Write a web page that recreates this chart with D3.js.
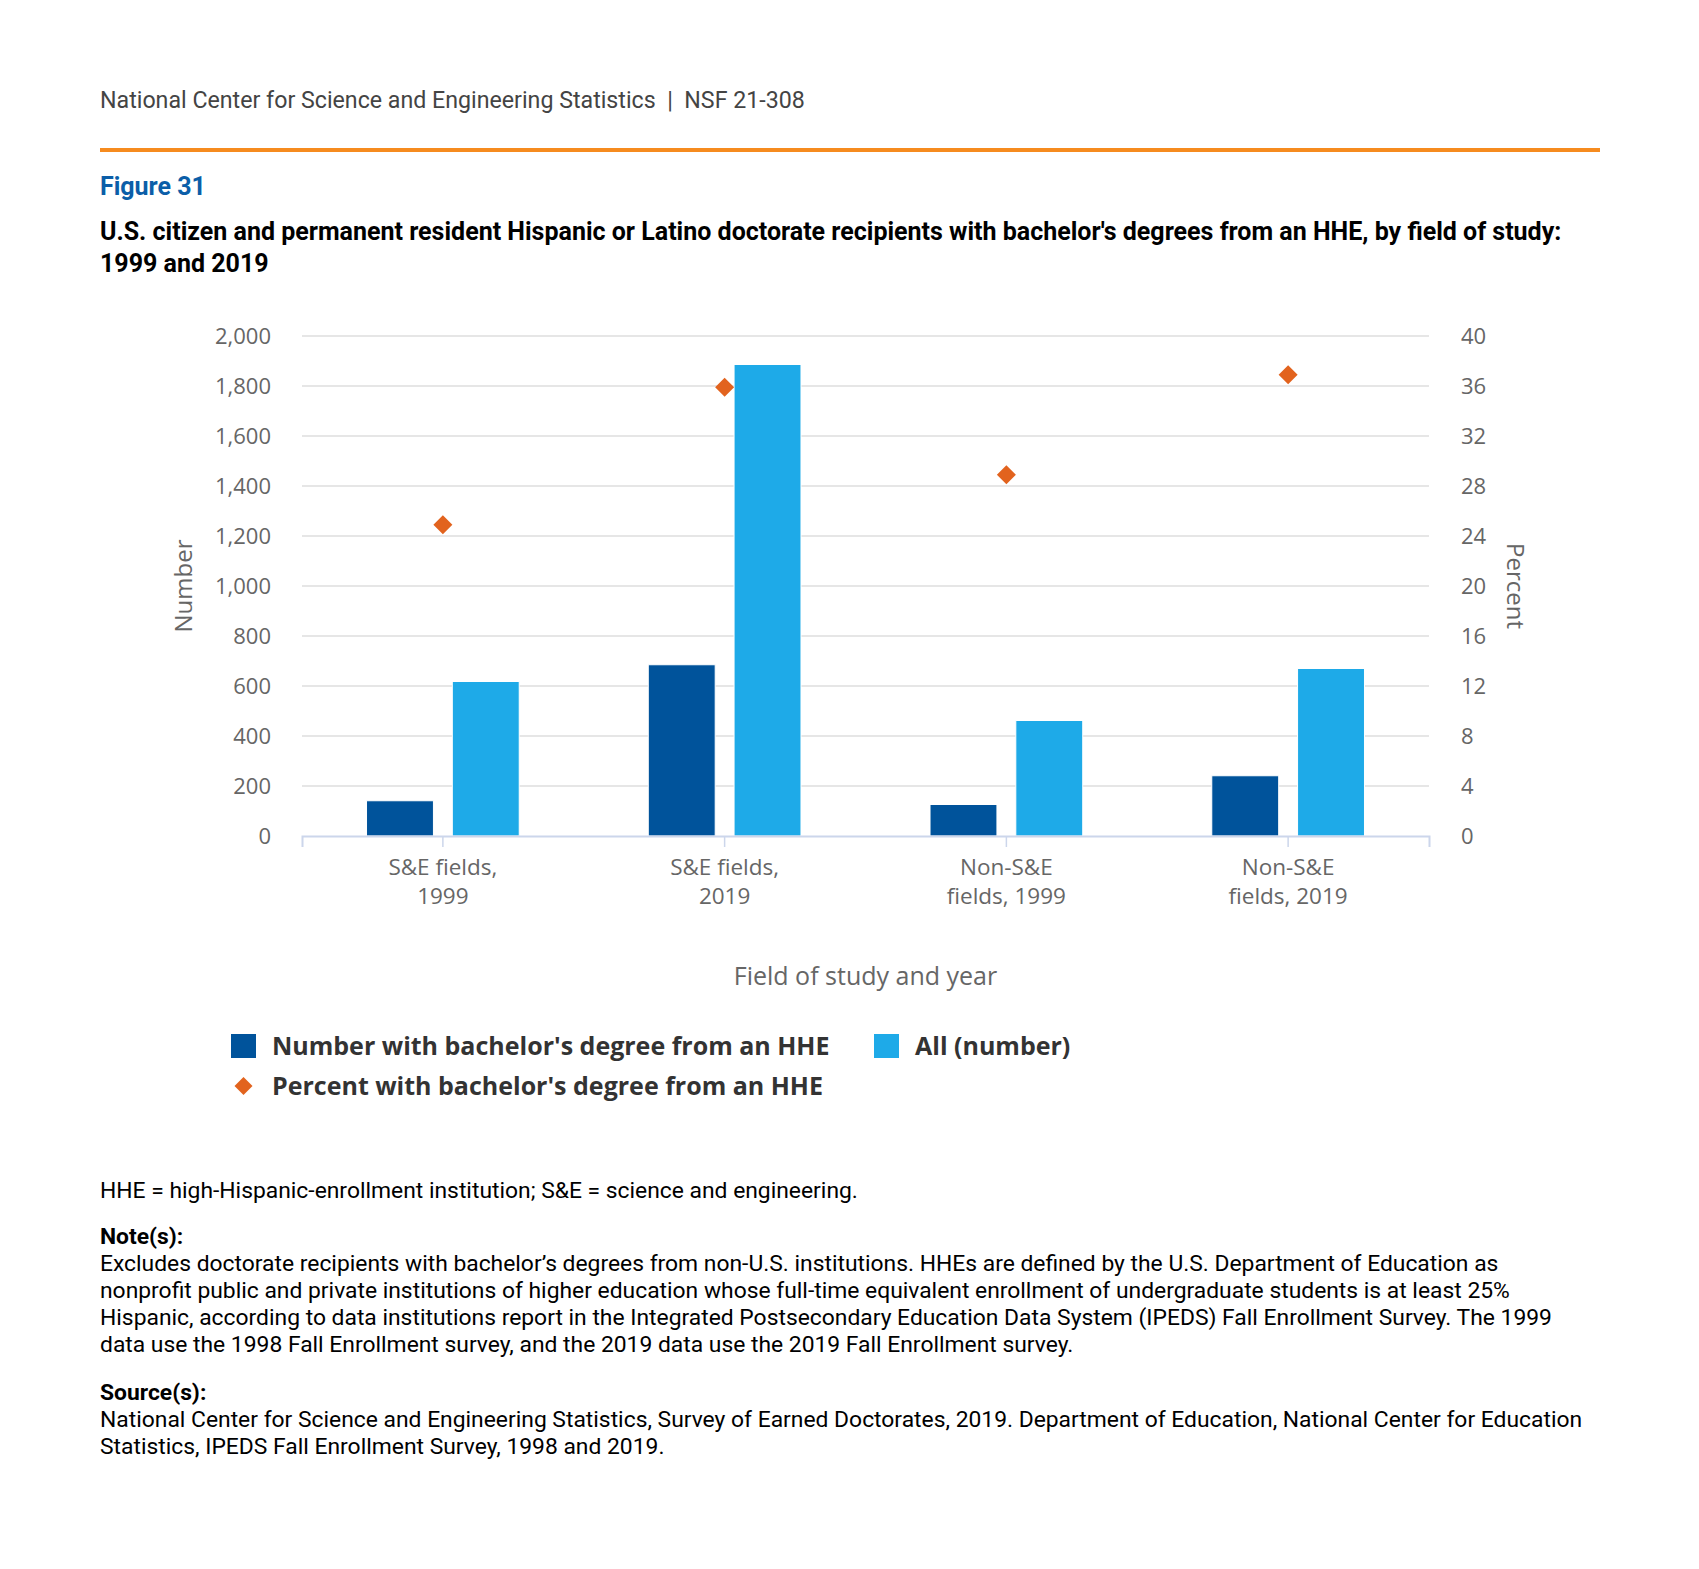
<!DOCTYPE html>
<html>
<head>
<meta charset="utf-8">
<script src="https://cdn.jsdelivr.net/npm/d3@7"></script>
<style>
  body { margin: 0; background: #fff; }
  svg { display: block; }
</style>
</head>
<body>
<div id="chart"></div>
<script>
// data
const categories = [["S&E fields,", "1999"], ["S&E fields,", "2019"], ["Non-S&E", "fields, 1999"], ["Non-S&E", "fields, 2019"]];
const seriesNames = ["Number with bachelor's degree from an HHE", "All (number)"];
const hheNumber = [141, 685, 126, 241];
const allNumber = [618, 1886, 462, 670];
const hhePercent = [24.9, 35.9, 28.9, 36.9];
const leftTicks = [0, 200, 400, 600, 800, 1000, 1200, 1400, 1600, 1800, 2000];
const rightTicks = [0, 4, 8, 12, 16, 20, 24, 28, 32, 36, 40];

const colors = { hhe: "#00539b", all: "#1eaae8", pct: "#e2631e" };

const W = 1699, H = 1569;
const plot = { left: 302, right: 1429, top: 336, bottom: 836 };

const svg = d3.select("#chart").append("svg")
    .attr("width", W)
    .attr("height", H)
    .style("font-family", "Roboto, sans-serif");

svg.append("rect").attr("width", W).attr("height", H).attr("fill", "#fff");

// header
svg.append("text")
    .attr("x", 100).attr("y", 100)
    .attr("dy", "0.35em")
    .attr("xml:space", "preserve")
    .style("font-size", "23.2px")
    .style("fill", "#444")
    .text("National Center for Science and Engineering Statistics  |  NSF 21-308");

svg.append("line")
    .attr("x1", 100).attr("x2", 1600)
    .attr("y1", 150).attr("y2", 150)
    .attr("stroke", "#f68b1f")
    .attr("stroke-width", 4);

svg.append("text")
    .attr("x", 100).attr("y", 186)
    .attr("dy", "0.35em")
    .style("font-size", "25px")
    .style("font-weight", "bold")
    .style("fill", "#0b5ea8")
    .text("Figure 31");

const titleLines = ["U.S. citizen and permanent resident Hispanic or Latino doctorate recipients with bachelor's degrees from an HHE, by field of study:", "1999 and 2019"];
svg.selectAll(".title").data(titleLines).enter()
  .append("text")
    .attr("class", "title")
    .attr("x", 100)
    .attr("y", (d, i) => 231 + i * 32)
    .attr("dy", "0.35em")
    .style("font-size", "25px")
    .style("font-weight", "bold")
    .style("fill", "#000")
    .text(d => d);

// scales
const x0 = d3.scaleBand()
    .domain(d3.range(categories.length))
    .range([plot.left, plot.right]);

const groupPad = x0.bandwidth() * 0.229;
const x1 = d3.scaleBand()
    .domain([0, 1])
    .range([groupPad, x0.bandwidth() - groupPad])
    .paddingInner(0.22);

const yL = d3.scaleLinear().domain([0, 2000]).range([plot.bottom, plot.top]);
const yR = d3.scaleLinear().domain([0, 40]).range([plot.bottom, plot.top]);

// grid
svg.append("g")
  .selectAll("line")
  .data(leftTicks.slice(1))
  .enter().append("line")
    .attr("x1", plot.left).attr("x2", plot.right)
    .attr("y1", d => yL(d)).attr("y2", d => yL(d))
    .attr("stroke", "#e6e6e6")
    .attr("stroke-width", 2);

// left axis
const axisL = svg.append("g")
    .attr("transform", `translate(${plot.left},0)`)
    .call(d3.axisLeft(yL).tickValues(leftTicks).tickFormat(d3.format(",")).tickSize(0).tickPadding(31));
axisL.select(".domain").remove();
axisL.selectAll("text")
    .style("font-family", "'Open Sans', sans-serif")
    .style("font-size", "22px")
    .style("fill", "#666");

// right axis
const axisR = svg.append("g")
    .attr("transform", `translate(${plot.right},0)`)
    .call(d3.axisRight(yR).tickValues(rightTicks).tickSize(0).tickPadding(32));
axisR.select(".domain").remove();
axisR.selectAll("text")
    .style("font-family", "'Open Sans', sans-serif")
    .style("font-size", "22px")
    .style("fill", "#666");

// bars
const groups = svg.append("g").selectAll("g")
    .data(categories.map((c, i) => i))
    .enter().append("g")
    .attr("transform", i => `translate(${x0(i)},0)`);

groups.selectAll("rect")
    .data(i => [hheNumber[i], allNumber[i]])
    .enter().append("rect")
    .attr("x", (d, j) => x1(j))
    .attr("width", x1.bandwidth())
    .attr("y", d => yL(d))
    .attr("height", d => yL(0) - yL(d))
    .attr("fill", (d, j) => j === 0 ? colors.hhe : colors.all)
    .attr("stroke", "#fff")
    .attr("stroke-width", 1);

// x axis
const axisX = svg.append("g")
    .attr("transform", `translate(0,${plot.bottom})`)
    .call(d3.axisBottom(x0).tickSize(11).tickFormat(""));
axisX.select(".domain")
    .attr("stroke", "#ccd6eb")
    .attr("stroke-width", 2);
axisX.selectAll(".tick line")
    .attr("stroke", "#ccd6eb")
    .attr("stroke-width", 1.5);

const xLabels = svg.append("g").selectAll("text")
    .data(categories)
    .enter().append("text")
    .attr("x", (d, i) => x0(i) + x0.bandwidth() / 2)
    .attr("y", 867)
    .attr("text-anchor", "middle")
    .style("font-family", "'Open Sans', sans-serif")
    .style("font-size", "22.5px")
    .style("fill", "#666");
xLabels.selectAll("tspan")
    .data(d => d)
    .enter().append("tspan")
    .attr("x", function() { return this.parentNode.getAttribute("x"); })
    .attr("dy", (d, i) => i === 0 ? "0.35em" : "29px")
    .text(d => d);

// percent markers
const diamond = (cx, cy, r) => `M${cx},${cy - r}L${cx + r},${cy}L${cx},${cy + r}L${cx - r},${cy}Z`;
svg.append("g").selectAll("path")
    .data(hhePercent)
    .enter().append("path")
    .attr("d", (d, i) => diamond(x0(i) + x0.bandwidth() / 2, yR(d), 9.5))
    .attr("fill", colors.pct);

// axis titles
svg.append("text")
    .attr("transform", `translate(184,${(plot.top + plot.bottom) / 2}) rotate(-90)`)
    .attr("text-anchor", "middle")
    .attr("dy", "0.35em")
    .style("font-family", "'Open Sans', sans-serif")
    .style("font-size", "24px")
    .style("fill", "#666")
    .text("Number");

svg.append("text")
    .attr("transform", `translate(1515,${(plot.top + plot.bottom) / 2}) rotate(90)`)
    .attr("text-anchor", "middle")
    .attr("dy", "0.35em")
    .style("font-family", "'Open Sans', sans-serif")
    .style("font-size", "24px")
    .style("fill", "#666")
    .text("Percent");

svg.append("text")
    .attr("x", (plot.left + plot.right) / 2)
    .attr("y", 976)
    .attr("dy", "0.35em")
    .attr("text-anchor", "middle")
    .style("font-family", "'Open Sans', sans-serif")
    .style("font-size", "25px")
    .style("fill", "#666")
    .text("Field of study and year");

// legend
const legend = svg.append("g")
    .style("font-family", "'Open Sans', sans-serif")
    .style("font-size", "25px")
    .style("font-weight", "bold")
    .style("fill", "#333");

const legendItems = [
  { label: seriesNames[0], color: colors.hhe, x: 231, y: 1046, kind: "rect" },
  { label: seriesNames[1], color: colors.all, x: 874, y: 1046, kind: "rect" },
  { label: "Percent with bachelor's degree from an HHE", color: colors.pct, x: 231, y: 1086, kind: "diamond" }
];

legendItems.forEach(it => {
  if (it.kind === "rect") {
    legend.append("rect")
      .attr("x", it.x).attr("y", it.y - 12)
      .attr("width", 25).attr("height", 24)
      .attr("fill", it.color);
  } else {
    legend.append("path")
      .attr("d", diamond(it.x + 12.5, it.y, 9))
      .attr("fill", it.color);
  }
  legend.append("text")
    .attr("x", it.x + 41)
    .attr("y", it.y)
    .attr("dy", "0.35em")
    .text(it.label);
});

// footnotes
const notes = [
  { t: "HHE = high-Hispanic-enrollment institution; S&E = science and engineering.", y: 1190, b: false },
  { t: "Note(s):", y: 1236, b: true },
  { t: "Excludes doctorate recipients with bachelor\u2019s degrees from non-U.S. institutions. HHEs are defined by the U.S. Department of Education as", y: 1263, b: false },
  { t: "nonprofit public and private institutions of higher education whose full-time equivalent enrollment of undergraduate students is at least 25%", y: 1290, b: false },
  { t: "Hispanic, according to data institutions report in the Integrated Postsecondary Education Data System (IPEDS) Fall Enrollment Survey. The 1999", y: 1317, b: false },
  { t: "data use the 1998 Fall Enrollment survey, and the 2019 data use the 2019 Fall Enrollment survey.", y: 1344, b: false },
  { t: "Source(s):", y: 1392, b: true },
  { t: "National Center for Science and Engineering Statistics, Survey of Earned Doctorates, 2019. Department of Education, National Center for Education", y: 1419, b: false },
  { t: "Statistics, IPEDS Fall Enrollment Survey, 1998 and 2019.", y: 1446, b: false }
];

svg.append("g").selectAll("text")
    .data(notes)
    .enter().append("text")
    .attr("x", 100)
    .attr("y", d => d.y)
    .attr("dy", "0.35em")
    .style("font-size", "22.85px")
    .style("font-weight", d => d.b ? "bold" : "normal")
    .style("fill", "#000")
    .text(d => d.t);
</script>
</body>
</html>
